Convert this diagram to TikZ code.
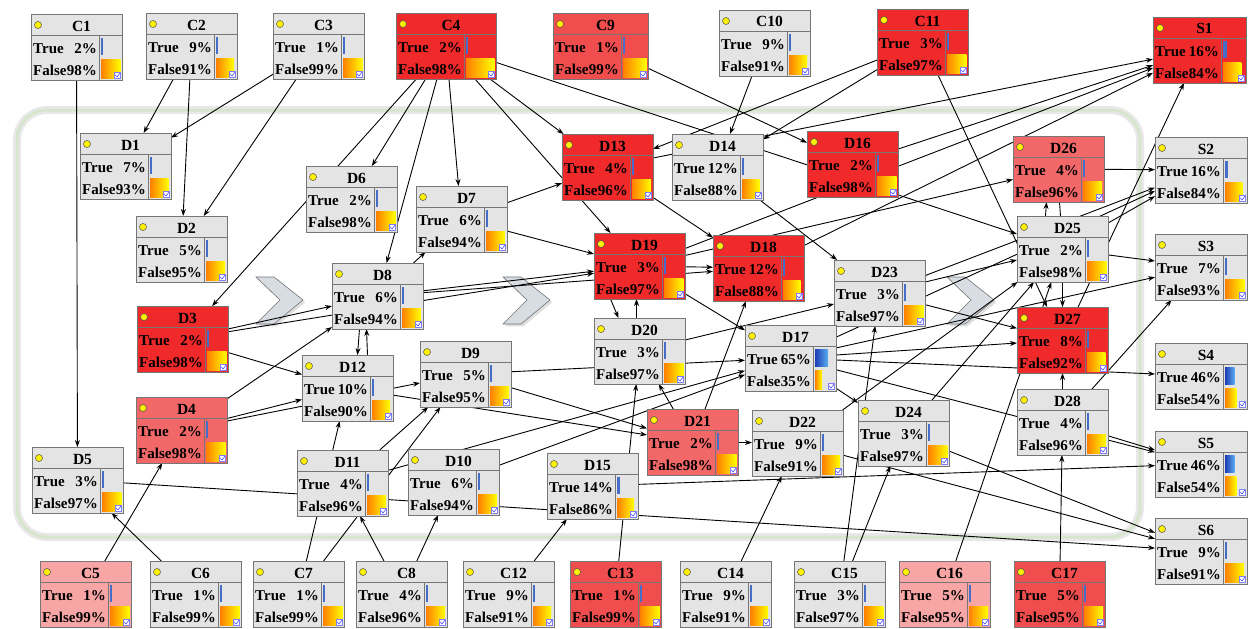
\documentclass[tikz,border=0pt]{standalone}
\usepackage{fontspec}
\setmainfont{Liberation Serif}
\usepackage{xcolor}
\usetikzlibrary{calc,shadows,backgrounds}
\usetikzlibrary{arrows.meta}

\definecolor{bngrey}{RGB}{228,228,228}
\definecolor{bnborder}{RGB}{118,118,118}
\definecolor{bnred}{RGB}{240,42,42}
\definecolor{bnredmid}{RGB}{240,78,78}
\definecolor{bnredlight}{RGB}{242,104,104}
\definecolor{bnpink}{RGB}{248,165,165}
\definecolor{bnblue}{RGB}{70,110,200}
\definecolor{bndarkblue}{RGB}{30,60,180}
\definecolor{bnlightblue}{RGB}{90,175,240}
\definecolor{panelgreen}{RGB}{214,230,204}
\definecolor{chevfill}{RGB}{216,221,227}

\begin{document}
\begin{tikzpicture}[x=1pt, y=-1pt,
    bnbox/.style={draw=bnborder, line width=0.8pt, anchor=north west,
                  minimum height=66pt, inner sep=0pt, outer sep=0pt},
    bnline/.style={draw=bnborder, line width=0.7pt},
    bntext/.style={font=\fontsize{15}{15}\selectfont\bfseries, inner sep=0pt},
    bntitle/.style={font=\fontsize{15.5}{15.5}\selectfont\bfseries, inner sep=0pt},
    bnlink/.style={-{Stealth[length=7pt,width=5pt]}, line width=0.9pt, black},
    bnplain/.style={line width=0.9pt, black},
    chevron/.style={fill=chevfill, draw=black!55, line width=0.6pt,
                    drop shadow={opacity=0.25}}]
        \useasboundingbox (0,0) rectangle (1248,629);

        % Function to draw one belief node
        % #1 width, #2 name, #3 x, #4 y, #5 title, #6 true, #7 false, #8 fill
        \newcommand{\bnnode}[8][91]{
            \node[bnbox, minimum width=#1pt, fill=#8] (#2) at (#3,#4) {};
            \draw[bnline] ($(#2.north west)+(0,21)$) -- ($(#2.north east)+(0,21)$);
            \draw[bnline] ($(#2.north west)+(68,21)$) -- ($(#2.south west)+(68,0)$);
            \filldraw[fill=yellow, draw=black!70, line width=0.5pt] ($(#2.north west)+(7,11)$) circle (3.5pt);
            \node[bntitle, anchor=base] at ($(#2.north)+(5,17)$) {#5};
            \node[bntext, anchor=base west] at ($(#2.north west)+(2,39)$) {True};
            \node[bntext, anchor=base east] at ($(#2.north west)+(66,39)$) {#6\%};
            \node[bntext, anchor=base west] at ($(#2.north west)+(2,61)$) {False};
            \node[bntext, anchor=base east] at ($(#2.north west)+(66,61)$) {#7\%};
            % bars
            \pgfmathsetmacro{\bnbarw}{#1-71}
            \pgfmathsetmacro{\bntw}{max(1.6,#6*\bnbarw/100)}
            \pgfmathsetmacro{\bnfw}{max(1.6,#7*\bnbarw/100)}
            \ifnum#6>30
                \shade[left color=bndarkblue, right color=bnlightblue] ($(#2.north west)+(70,24)$) rectangle ++(\bntw,17);
            \else
                \fill[bnblue] ($(#2.north west)+(70,24)$) rectangle ++(\bntw,17);
            \fi
            \shade[left color=orange, right color=yellow] ($(#2.north west)+(70,45)$) rectangle ++(\bnfw,19);
            % check icon
            \filldraw[fill=white, draw=blue!50, line width=0.4pt] ($(#2.south east)+(-8,-8)$) rectangle ++(6,6);
            \draw[blue!70, line width=0.6pt] ($(#2.south east)+(-7,-5)$) -- ++(2,2) -- ++(3,-4);
        }

        % Top row
        \bnnode{c1}{31}{14}{C1}{2}{98}{bngrey}
        \bnnode{c2}{146}{13}{C2}{9}{91}{bngrey}
        \bnnode{c3}{273}{13}{C3}{1}{99}{bngrey}
        \bnnode[100]{c4}{396}{13}{C4}{2}{98}{bnred}
        \bnnode[95]{c9}{553}{13}{C9}{1}{99}{bnredmid}
        \bnnode{c10}{719}{10}{C10}{9}{91}{bngrey}
        \bnnode{c11}{877}{9}{C11}{3}{97}{bnred}
        \bnnode[93]{s1}{1153}{17}{S1}{16}{84}{bnred}

        % Inner nodes
        \bnnode{d1}{80}{133}{D1}{7}{93}{bngrey}
        \bnnode{d6}{306}{166}{D6}{2}{98}{bngrey}
        \bnnode{d7}{416}{186}{D7}{6}{94}{bngrey}
        \bnnode{d13}{562}{134}{D13}{4}{96}{bnred}
        \bnnode{d14}{672}{134}{D14}{12}{88}{bngrey}
        \bnnode{d16}{807}{131}{D16}{2}{98}{bnred}
        \bnnode{d26}{1013}{136}{D26}{4}{96}{bnredlight}
        \bnnode[92]{s2}{1155}{137}{S2}{16}{84}{bngrey}
        \bnnode{d2}{136}{216}{D2}{5}{95}{bngrey}
        \bnnode{d8}{332}{263}{D8}{6}{94}{bngrey}
        \bnnode{d19}{594}{233}{D19}{3}{97}{bnred}
        \bnnode{d18}{713}{235}{D18}{12}{88}{bnred}
        \bnnode{d23}{834}{260}{D23}{3}{97}{bngrey}
        \bnnode{d25}{1017}{216}{D25}{2}{98}{bngrey}
        \bnnode[92]{s3}{1155}{234}{S3}{7}{93}{bngrey}
        \bnnode{d3}{137}{306}{D3}{2}{98}{bnred}
        \bnnode{d12}{302}{355}{D12}{10}{90}{bngrey}
        \bnnode{d9}{420}{341}{D9}{5}{95}{bngrey}
        \bnnode{d20}{594}{318}{D20}{3}{97}{bngrey}
        \bnnode{d17}{745}{325}{D17}{65}{35}{bngrey}
        \bnnode{d27}{1017}{307}{D27}{8}{92}{bnred}
        \bnnode[92]{s4}{1155}{343}{S4}{46}{54}{bngrey}
        \bnnode{d4}{136}{397}{D4}{2}{98}{bnredlight}
        \bnnode{d21}{647}{409}{D21}{2}{98}{bnredlight}
        \bnnode{d22}{752}{410}{D22}{9}{91}{bngrey}
        \bnnode{d24}{858}{400}{D24}{3}{97}{bngrey}
        \bnnode{d28}{1017}{389}{D28}{4}{96}{bngrey}
        \bnnode[92]{s5}{1155}{431}{S5}{46}{54}{bngrey}
        \bnnode{d5}{32}{447}{D5}{3}{97}{bngrey}
        \bnnode{d11}{297}{450}{D11}{4}{96}{bngrey}
        \bnnode{d10}{408}{449}{D10}{6}{94}{bngrey}
        \bnnode{d15}{547}{453}{D15}{14}{86}{bngrey}
        \bnnode[92]{s6}{1155}{518}{S6}{9}{91}{bngrey}

        % Bottom row
        \bnnode{c5}{40}{561}{C5}{1}{99}{bnpink}
        \bnnode{c6}{150}{561}{C6}{1}{99}{bngrey}
        \bnnode{c7}{253}{561}{C7}{1}{99}{bngrey}
        \bnnode{c8}{356}{561}{C8}{4}{96}{bngrey}
        \bnnode{c12}{463}{561}{C12}{9}{91}{bngrey}
        \bnnode{c13}{570}{561}{C13}{1}{99}{bnredmid}
        \bnnode{c14}{680}{561}{C14}{9}{91}{bngrey}
        \bnnode{c15}{794}{561}{C15}{3}{97}{bngrey}
        \bnnode{c16}{899}{561}{C16}{5}{95}{bnpink}
        \bnnode{c17}{1014}{561}{C17}{5}{95}{bnredmid}

        \begin{pgfonlayer}{background}
            % frame round the inner layer
            \draw[line width=8pt, black!9, rounded corners=30pt] (17,110) rectangle (1140,537);
            \draw[line width=3pt, panelgreen, rounded corners=30pt] (17,110) rectangle (1140,537);

            % chevrons
            \foreach \cx in {256,503,947} {
                \filldraw[chevron] (\cx,277) -- ++(18,0) -- ++(29,23) -- ++(-29,24)
                    -- ++(-18,0) -- ++(24,-24) -- cycle;
            }

            % links
            \foreach \a/\b in {c1/d5, c2/d1, c2/d2, c3/d1, c3/d2, c4/d3, c4/d6, c4/d8,
                c4/d7, c4/d19, c4/d13, c4/d25, c9/d16, c10/d14, c11/d13, c11/d14,
                c11/d27, c5/d4, c6/d5, c7/d12, c7/d9, c8/d11, c8/d10, c12/d15,
                c13/d20, c14/d22, c15/d23, c15/d24, c16/d25, c17/d28,
                d3/d8, d3/d19, d3/d12, d4/d8, d4/d12, d4/d9, d8/d19, d8/d18, d8/d7,
                d7/d13, d7/d19, d12/d21, d9/d21, d9/d17, d10/d17, d11/d9, d11/d17,
                d13/d18, d13/s1, d14/d23, d16/s1, d19/d18, d19/d17, d19/s1, d19/d26,
                d18/s1, d20/d23, d21/d20, d21/d18, d21/d22, d22/d25, d22/s6,
                d23/d25, d23/d27, d23/s2, d24/d25, d24/s6, d17/d27, d17/s2, d17/s3,
                d17/s4, d17/s5, d17/d24, d15/s5, d5/s6, d25/d27, d25/s2, d25/s3,
                d26/s2, d27/s1, d28/d27, d28/s3, d28/s5} {
                \draw[bnlink] (\a) -- (\b);
            }

            % paired links
            \draw[bnlink] ([xshift=-18pt]d8.south) -- ([xshift=10pt]d12.north);
            \draw[bnlink] ([xshift=20pt]d12.north) -- ([xshift=-11pt]d8.south);
            \draw[bnlink] ([xshift=-29pt]d19.south) -- ([xshift=-21pt]d20.north);
            \draw[bnlink] ([xshift=-3pt]d20.north) -- ([xshift=-3pt]d19.south);
            \draw[bnlink] ([xshift=-17pt]d25.north) -- ([xshift=-12pt]d26.south);
            \draw[bnplain] ([xshift=1pt]d26.south) -- ([xshift=-2pt]d25.north);
        \end{pgfonlayer}
    \end{tikzpicture}
\end{document}
